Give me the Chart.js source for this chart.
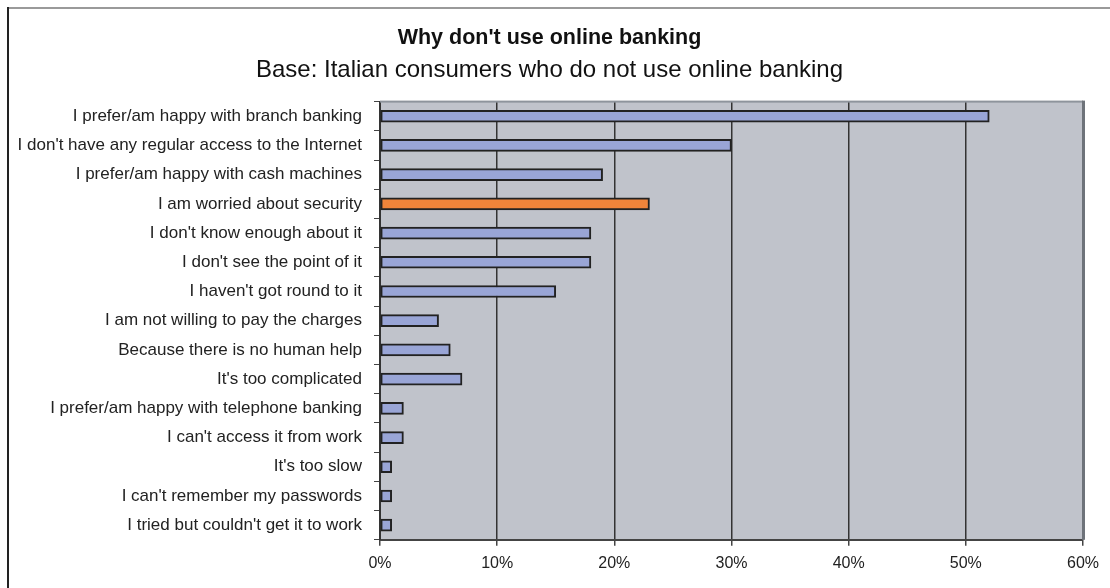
<!DOCTYPE html>
<html>
<head>
<meta charset="utf-8">
<script src="https://cdn.jsdelivr.net/npm/chart.js@4.4.1/dist/chart.umd.min.js"></script>
<style>
  html, body { margin: 0; padding: 0; background: #fff; }
  #wrap { width: 1110px; height: 588px; position: relative; }
</style>
</head>
<body>
<div id="wrap"><canvas id="chart" width="1110" height="588"></canvas></div>
<script>
// Datos
const categories = [
  "I prefer/am happy with branch banking",
  "I don't have any regular access to the Internet",
  "I prefer/am happy with cash machines",
  "I am worried about security",
  "I don't know enough about it",
  "I don't see the point of it",
  "I haven't got round to it",
  "I am not willing to pay the charges",
  "Because there is no human help",
  "It's too complicated",
  "I prefer/am happy with telephone banking",
  "I can't access it from work",
  "It's too slow",
  "I can't remember my passwords",
  "I tried but couldn't get it to work"
];
const values = [52, 30, 19, 23, 18, 18, 15, 5, 6, 7, 2, 2, 1, 1, 1];
const highlighted = "I am worried about security";
const xTicks = [0, 10, 20, 30, 40, 50, 60];

const FONT = "'Liberation Sans', Arial, sans-serif";

// fondo gris del área y marco exterior
const frame = {
  id: "frame",
  beforeDraw(chart) {
    const { ctx, chartArea: a } = chart;
    ctx.save();
    // marco exterior (arriba y a la izquierda)
    ctx.fillStyle = "#9a9a9a";
    ctx.fillRect(7, 7, chart.width - 7, 2);
    ctx.fillStyle = "#222";
    ctx.fillRect(7, 7, 2, chart.height - 7);
    // área de trazado
    ctx.fillStyle = "#c0c3cb";
    ctx.fillRect(a.left, a.top, a.right - a.left, a.bottom - a.top);
    ctx.restore();
  },
  afterDatasetsDraw(chart) {
    const { ctx, chartArea: a } = chart;
    ctx.save();
    ctx.fillStyle = "#8e949c";
    ctx.fillRect(a.left, a.top - 1, a.right - a.left, 2);
    ctx.fillStyle = "#6e737a";
    ctx.fillRect(a.right - 1, a.top - 1, 3, a.bottom - a.top + 1);
    ctx.restore();
  }
};

new Chart(document.getElementById("chart"), {
  type: "bar",
  data: {
    labels: categories,
    datasets: [{
      data: values,
      backgroundColor: (c) => categories[c.dataIndex] === highlighted ? "#f0843a" : "#99a5d6",
      borderColor: "#222",
      borderWidth: 2,
      borderSkipped: false,
      barThickness: 12
    }]
  },
  options: {
    indexAxis: "y",
    responsive: false,
    animation: false,
    layout: { padding: { left: 16, right: 27, top: 0, bottom: 7 } },
    scales: {
      x: {
        min: 0,
        max: 60,
        afterBuildTicks: (s) => { s.ticks = xTicks.map(v => ({ value: v })); },
        ticks: {
          callback: (v) => v + "%",
          font: { family: FONT, size: 16 },
          color: "#222",
          padding: 8
        },
        grid: { color: "#333", lineWidth: 1.5, tickLength: 6, tickColor: "#444" },
        border: { color: "#444", width: 2 }
      },
      y: {
        afterFit: (s) => { s.width = 364; },
        ticks: {
          font: { family: FONT, size: 17 },
          color: "#222",
          padding: 12
        },
        grid: { drawOnChartArea: false, offset: true, tickLength: 6, color: "#444" },
        border: { color: "#333", width: 2 }
      }
    },
    plugins: {
      legend: { display: false },
      tooltip: { enabled: false },
      title: {
        display: true,
        text: "Why don't use online banking",
        font: { family: FONT, size: 21.5, weight: "bold" },
        color: "#111",
        padding: { top: 25, bottom: 3 }
      },
      subtitle: {
        display: true,
        text: "Base: Italian consumers who do not use online banking",
        font: { family: FONT, size: 24 },
        color: "#111",
        padding: { top: 2, bottom: 17 }
      }
    }
  },
  plugins: [frame]
});
</script>
</body>
</html>
